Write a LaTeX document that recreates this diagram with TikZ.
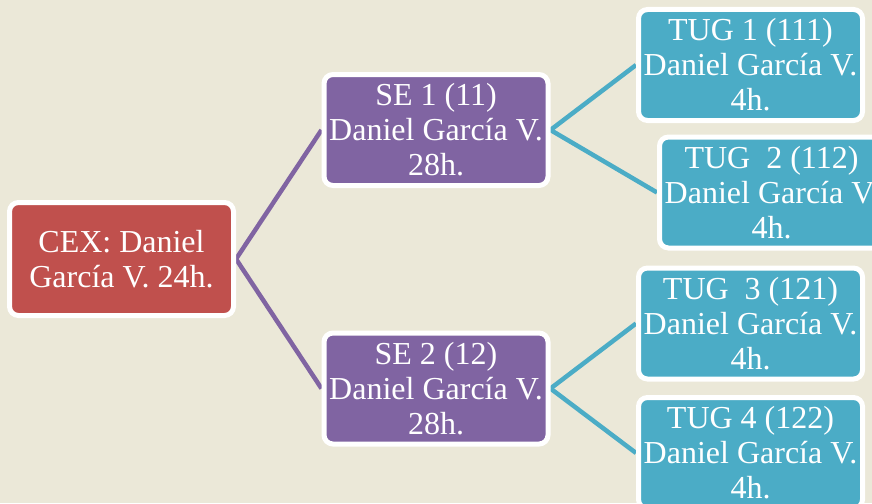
\documentclass[tikz,border=0pt]{standalone}
\usepackage{fontspec}
\setmainfont{Liberation Serif}
\usetikzlibrary{backgrounds}
\definecolor{bgtan}{HTML}{EBE8D8}
\definecolor{cexred}{HTML}{C0504D}
\definecolor{sepurple}{HTML}{8064A2}
\definecolor{tugteal}{HTML}{4BACC6}
\tikzset{
  orgbox/.style={rectangle, rounded corners=9pt, draw=white, line width=5pt,
    minimum width=224pt, minimum height=111pt, inner sep=0pt, align=center,
    text=white, font=\fontsize{32}{35}\selectfont},
  cexbox/.style={orgbox, fill=cexred, minimum height=113pt},
  sebox/.style={orgbox, fill=sepurple},
  tugbox/.style={orgbox, fill=tugteal},
  purpleline/.style={draw=sepurple, line width=4.5pt},
  tealline/.style={draw=tugteal, line width=4.5pt}
}
\begin{document}
\begin{tikzpicture}[x=1pt,y=-1pt]
\useasboundingbox (0,0) rectangle (872,503);
\clip (0,0) rectangle (872,503);
\node[cexbox] (cex) at (121.5,259) {CEX: Daniel\\García V. 24h.};
\node[sebox] (se1) at (436,130) {SE 1 (11)\\Daniel García V.\\28h.};
\node[sebox] (se2) at (436,388.5) {SE 2 (12)\\Daniel García V.\\28h.};
\node[tugbox] (tug1) at (750.5,65) {TUG 1 (111)\\Daniel García V.\\4h.};
\node[tugbox] (tug2) at (771.5,192.5) {TUG~~2 (112)\\Daniel García V.\\4h.};
\node[tugbox] (tug3) at (750.5,323.5) {TUG~~3 (121)\\Daniel García V.\\4h.};
\node[tugbox] (tug4) at (750.5,453) {TUG 4 (122)\\Daniel García V.\\4h.};
\begin{scope}[on background layer]
\fill[bgtan] (0,0) rectangle (872,503);
\path[purpleline] (cex.east) -- (se1.west);
\path[purpleline] (cex.east) -- (se2.west);
\path[tealline] (se1.east) -- (tug1.west);
\path[tealline] (se1.east) -- (tug2.west);
\path[tealline] (se2.east) -- (tug3.west);
\path[tealline] (se2.east) -- (tug4.west);
\end{scope}
\end{tikzpicture}
\end{document}
